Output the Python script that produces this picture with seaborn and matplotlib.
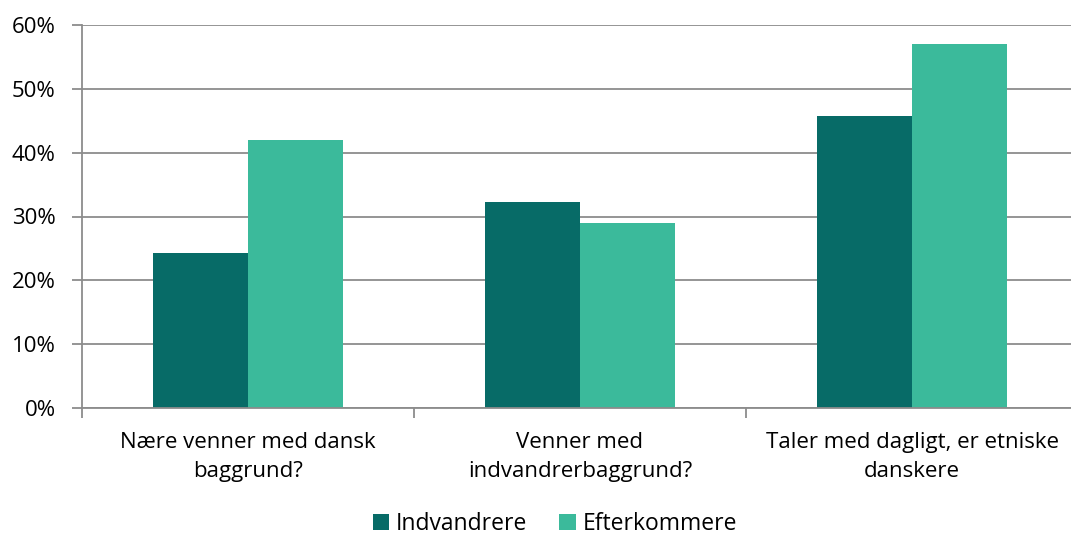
import seaborn as sns
import matplotlib.pyplot as plt
import pandas as pd

kategorier = ["Nære venner med dansk\nbaggrund?",
              "Venner med\nindvandrerbaggrund?",
              "Taler med dagligt, er etniske\ndanskere"]
indvandrere = [24.3, 32.3, 45.7]
efterkommere = [42.0, 29.0, 57.1]
serier = ["Indvandrere", "Efterkommere"]
farver = ["#076B67", "#3BBA9B"]

df = pd.DataFrame({
    "kategori": kategorier * 2,
    "gruppe": [serier[0]] * 3 + [serier[1]] * 3,
    "andel": indvandrere + efterkommere,
})

sns.set_style("white")
plt.rcParams["font.family"] = ["Open Sans", "DejaVu Sans"]
plt.rcParams["font.size"] = 16
plt.rcParams["text.color"] = "black"
plt.rcParams["xtick.color"] = "black"
plt.rcParams["ytick.color"] = "black"

fig = plt.figure(figsize=(10.71, 5.39), dpi=100)
ax = fig.add_axes([82 / 1071, 1 - 408 / 539, 996 / 1071, 383 / 539])

sns.barplot(data=df, x="kategori", y="andel", hue="gruppe", palette=farver,
            width=0.572, linewidth=0, saturation=1, ax=ax, legend=True)

ax.set_ylim(0, 60)
ax.set_xlim(-0.5, 2.5)
ax.set_yticks(range(0, 61, 10))
ax.set_yticklabels([f"{v}%" for v in range(0, 61, 10)])
ax.yaxis.grid(True, color="#8c8c8c", linewidth=1.3)
ax.set_axisbelow(True)
ax.set_xlabel("")
ax.set_ylabel("")

for side in ["top", "right"]:
    ax.spines[side].set_visible(False)
for side in ["left", "bottom"]:
    ax.spines[side].set_color("#8c8c8c")
    ax.spines[side].set_linewidth(1.3)

ax.tick_params(axis="y", length=7, width=1.3, color="#8c8c8c", pad=12,
               labelsize=16, labelcolor="black", left=True)
ax.tick_params(axis="x", which="major", length=0, pad=17, labelsize=16,
               labelcolor="black")
ax.set_xticks([-0.5, 0.5, 1.5, 2.5], minor=True)
ax.tick_params(axis="x", which="minor", length=7, width=1.3, color="#8c8c8c",
               bottom=True)
for lbl in ax.get_xticklabels():
    lbl.set_linespacing(1.5)

handles, labels = ax.get_legend_handles_labels()
ax.get_legend().remove()
fig.legend(handles, labels, loc="center", bbox_to_anchor=(555 / 1071, 0.028),
           ncol=2, frameon=False, fontsize=16.5, handlelength=0.7,
           handleheight=0.7, handletextpad=0.3, columnspacing=1.4)

fig.savefig("out.png", dpi=100)
